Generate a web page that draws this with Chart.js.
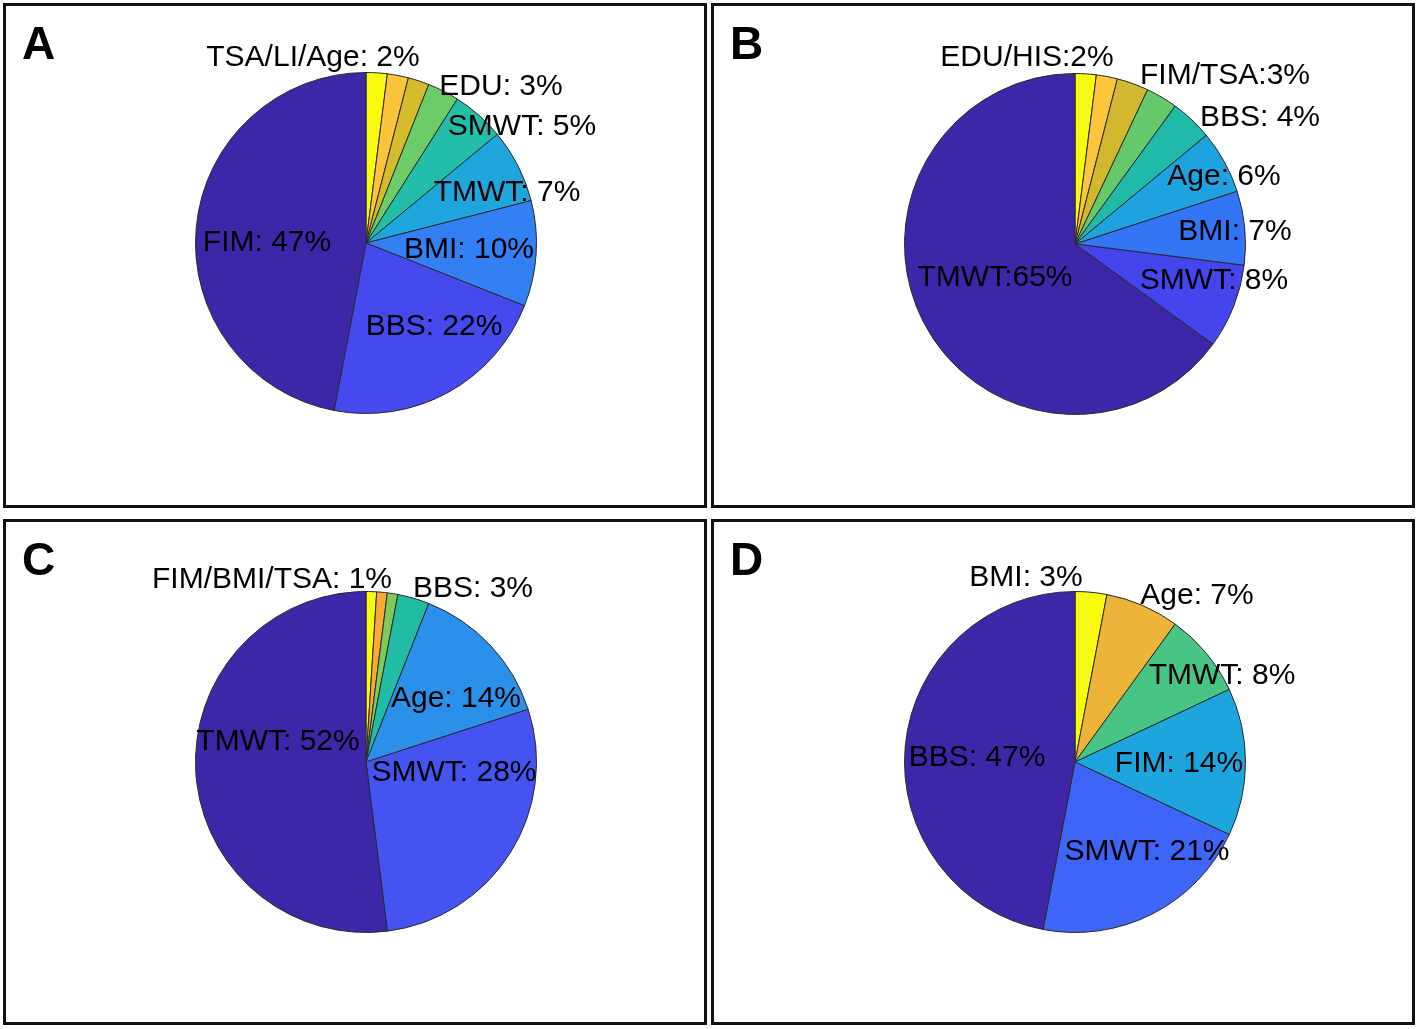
<!DOCTYPE html>
<html>
<head>
<meta charset="utf-8">
<script src="https://cdn.jsdelivr.net/npm/chart.js@4.4.1/dist/chart.umd.min.js"></script>
<style>
  html, body { margin: 0; padding: 0; background: #fff; }
  #page { position: relative; width: 1418px; height: 1029px; overflow: hidden; }
  .box { position: absolute; box-sizing: border-box; border: 3px solid #111; }
  canvas { position: absolute; left: 0; top: 0; }
</style>
</head>
<body>
<div id="page">
  <div class="box" style="left:3px;top:3px;width:704px;height:505px"></div>
  <div class="box" style="left:711px;top:3px;width:704px;height:505px"></div>
  <div class="box" style="left:3px;top:519px;width:704px;height:506px"></div>
  <div class="box" style="left:711px;top:519px;width:704px;height:506px"></div>
  <canvas id="pieA" width="1418" height="1029"></canvas>
  <canvas id="pieB" width="1418" height="1029"></canvas>
  <canvas id="pieC" width="1418" height="1029"></canvas>
  <canvas id="pieD" width="1418" height="1029"></canvas>
</div>
<script>
// --- datos (porcentajes, sentido horario desde arriba) ---
const catsA = ['TSA', 'LI', 'Age', 'EDU', 'SMWT', 'TMWT', 'BMI', 'BBS', 'FIM'];
const valsA = [2, 2, 2, 3, 5, 7, 10, 22, 47];
const textA = ['TSA/LI/Age: 2%', 'EDU: 3%', 'SMWT: 5%', 'TMWT: 7%', 'BMI: 10%', 'BBS: 22%', 'FIM: 47%'];

const catsB = ['EDU', 'HIS', 'FIM', 'TSA', 'BBS', 'Age', 'BMI', 'SMWT', 'TMWT'];
const valsB = [2, 2, 3, 3, 4, 6, 7, 8, 65];
const textB = ['EDU/HIS:2%', 'FIM/TSA:3%', 'BBS: 4%', 'Age: 6%', 'BMI: 7%', 'SMWT: 8%', 'TMWT:65%'];

const catsC = ['FIM', 'BMI', 'TSA', 'BBS', 'Age', 'SMWT', 'TMWT'];
const valsC = [1, 1, 1, 3, 14, 28, 52];
const textC = ['FIM/BMI/TSA: 1%', 'BBS: 3%', 'Age: 14%', 'SMWT: 28%', 'TMWT: 52%'];

const catsD = ['BMI', 'Age', 'TMWT', 'FIM', 'SMWT', 'BBS'];
const valsD = [3, 7, 8, 14, 21, 47];
const textD = ['BMI: 3%', 'Age: 7%', 'TMWT: 8%', 'FIM: 14%', 'SMWT: 21%', 'BBS: 47%'];

// --- estilo (colores tipo parula) ---
const colorsA = ['#F9FB0F', '#FCC43A', '#D6BB2C', '#6CCC68', '#23BEAA', '#1FA7DD', '#3380F5', '#4649EE', '#3D26A8'];
const colorsB = ['#F9FB0E', '#FCC53C', '#D2B82E', '#65C96B', '#1FBBA8', '#1EA2E0', '#3375F5', '#4545EE', '#3E26A8'];
const colorsC = ['#F9FB0E', '#FAAA34', '#80CB58', '#20BCA3', '#2A90EA', '#4553F0', '#3E26A8'];
const colorsD = ['#F9FB0E', '#EEB43A', '#48C585', '#1DA6DE', '#3D66F8', '#3E26A8'];

// --- layout: centro del pie, radio, desplazamiento de etiquetas (px respecto al centro) ---
const PAGE_W = 1418, PAGE_H = 1029, RADIUS = 171;
const panels = [
  { id: 'pieA', letter: 'A', box: [3, 3], center: [366, 243], cats: catsA, vals: valsA, colors: colorsA, text: textA,
    offs: [[-53, -185], [135, -156], [156, -116], [141, -50], [103, 7], [68, 84], [-99, 0]] },
  { id: 'pieB', letter: 'B', box: [711, 3], center: [1075, 244], cats: catsB, vals: valsB, colors: colorsB, text: textB,
    offs: [[-48, -186], [150, -168], [185, -126], [149, -67], [160, -12], [139, 37], [-80, 34]] },
  { id: 'pieC', letter: 'C', box: [3, 519], center: [366, 762], cats: catsC, vals: valsC, colors: colorsC, text: textC,
    offs: [[-94, -182], [107, -173], [90, -63], [88, 11], [-88, -20]] },
  { id: 'pieD', letter: 'D', box: [711, 519], center: [1075, 762], cats: catsD, vals: valsD, colors: colorsD, text: textD,
    offs: [[-49, -184], [122, -166], [147, -86], [104, 2], [72, 90], [-98, -4]] }
];

// etiquetas colocadas a mano alrededor del pie + letra del panel
const pieLabels = {
  id: 'pieLabels',
  afterDatasetsDraw(chart, args, opts) {
    const arc = chart.getDatasetMeta(0).data[0];
    if (!arc) return;
    const ctx = chart.ctx;
    ctx.save();
    ctx.fillStyle = '#000';
    ctx.font = '30px "Liberation Sans", Arial, sans-serif';
    ctx.textAlign = 'center';
    ctx.textBaseline = 'middle';
    opts.text.forEach((t, i) => {
      const o = opts.offs[i];
      ctx.fillText(t, arc.x + o[0], arc.y + o[1]);
    });
    ctx.font = 'bold 46px "Liberation Sans", Arial, sans-serif';
    ctx.textAlign = 'left';
    ctx.textBaseline = 'alphabetic';
    ctx.fillText(opts.letter, opts.box[0] + 19, opts.box[1] + 56);
    ctx.restore();
  }
};

panels.forEach(p => {
  const cx = p.center[0], cy = p.center[1];
  new Chart(document.getElementById(p.id), {
    type: 'pie',
    data: {
      labels: p.cats,
      datasets: [{
        data: p.vals,
        backgroundColor: p.colors,
        borderColor: '#2a2a2a',
        borderWidth: 1
      }]
    },
    options: {
      responsive: false,
      animation: false,
      events: [],
      layout: {
        padding: { left: cx - RADIUS, top: cy - RADIUS, right: PAGE_W - cx - RADIUS, bottom: PAGE_H - cy - RADIUS }
      },
      plugins: {
        legend: { display: false },
        tooltip: { enabled: false },
        pieLabels: { text: p.text, offs: p.offs, letter: p.letter, box: p.box }
      }
    },
    plugins: [pieLabels]
  });
});
</script>
</body>
</html>
